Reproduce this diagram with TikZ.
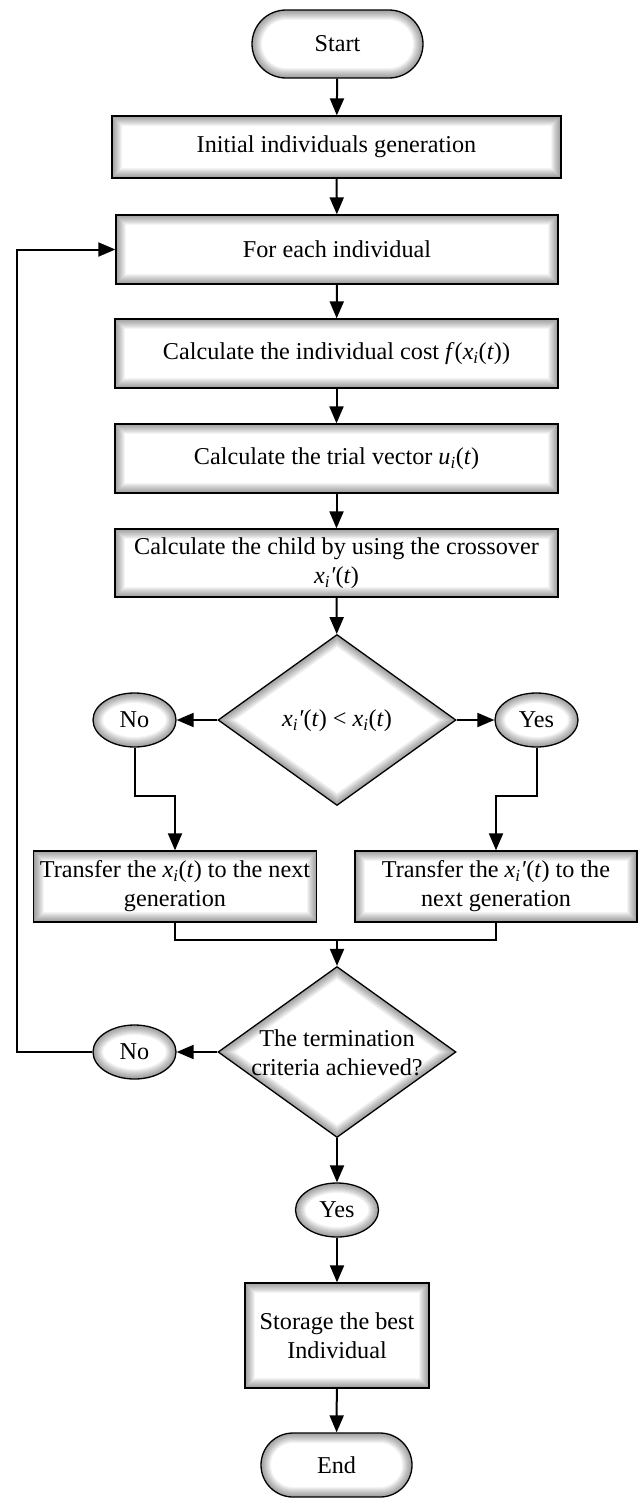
\documentclass[tikz,border=0pt]{standalone}
\usepackage{fontspec}
\setmainfont{Liberation Serif}
\usetikzlibrary{arrows.meta,shapes.geometric}
\newcommand{\xv}{\textit{x}}
\newcommand{\isub}{\textsubscript{\textit{i}}}
\newcommand{\prm}{\textit{′}}
\newcommand{\glowlist}{2,4,6,8,10,12,14,16,18,20}
\tikzset{
  glowpen/.style={line width=#1 pt, black, opacity=0.045},
  glowrect/.style={path picture={
    \foreach \w in \glowlist{
      \draw[glowpen=\w] (path picture bounding box.south west) rectangle (path picture bounding box.north east);}
  }},
  glowstad/.style={path picture={
    \foreach \w in \glowlist{
      \draw[glowpen=\w, rounded corners=#1] (path picture bounding box.south west) rectangle (path picture bounding box.north east);}
  }},
  glowdia/.style={path picture={
    \foreach \w in \glowlist{
      \draw[glowpen=\w] (path picture bounding box.north) -- (path picture bounding box.east) -- (path picture bounding box.south) -- (path picture bounding box.west) -- cycle;}
  }},
  glowell/.style={path picture={
    \foreach \w in \glowlist{
      \draw[glowpen=\w] (path picture bounding box.center) ellipse [x radius=41.5pt, y radius=27pt];}
  }},
  base/.style={draw=black, line width=1.3pt, fill=white, inner sep=0pt, align=center,
    font=\fontsize{24.2}{29}\selectfont},
  procbox/.style={base, rectangle, glowrect},
  stad/.style={base, rectangle, rounded corners=#1, glowstad=#1},
  dia/.style={base, diamond, glowdia, minimum width=238pt, minimum height=171pt},
  ell/.style={base, ellipse, glowell, minimum width=83pt, minimum height=54pt},
  txt/.style={inner sep=0pt, align=center, font=\fontsize{24.2}{29}\selectfont},
  conn/.style={line width=2pt, -{Triangle[length=17pt,width=14pt]}},
  plain/.style={line width=2pt},
}
\begin{document}
\begin{tikzpicture}[x=1pt,y=-1pt]
\useasboundingbox (0,0) rectangle (638,1499);

\node[stad=34pt, minimum width=171pt, minimum height=68pt] (start) at (337.5,44) {Start};
\node[procbox, minimum width=449pt, minimum height=62pt] (init) at (336.5,147) {Initial individuals generation};
\node[procbox, minimum width=442pt, minimum height=69pt] (foreach) at (337,249.5) {For each individual};
\node[procbox, minimum width=443pt, minimum height=69pt] (cost) at (336.5,353.5) {Calculate the individual cost \textit{f}(\xv\isub(\textit{t}))};
\node[procbox, minimum width=443pt, minimum height=69pt] (trial) at (336.5,458.5) {Calculate the trial vector \textit{u}\isub(\textit{t})};
\node[procbox, minimum width=443pt, minimum height=68pt] (child) at (336.5,563) {Calculate the child by using the crossover\\\xv\isub\prm(\textit{t})};

\node[dia] (dec1) at (337,720) {};
\node[txt] (dec1t) at (337,721) {\xv\isub\prm(\textit{t}) < \xv\isub(\textit{t})};
\node[ell] (no1) at (134.5,720) {No};
\node[ell] (yes1) at (536.5,720) {Yes};

\node[procbox, minimum width=283pt, minimum height=71pt] (trans1) at (175,886.5) {Transfer the \xv\isub(\textit{t}) to the next\\generation};
\node[procbox, minimum width=282pt, minimum height=71pt] (trans2) at (496,886.5) {Transfer the \xv\isub\prm(\textit{t}) to the\\next generation};

\node[dia] (dec2) at (337,1052) {};
\node[txt] (dec2t) at (337,1053) {The termination\\criteria achieved?};
\node[ell] (no2) at (134.5,1052) {No};
\node[ell] (yes2) at (337,1210) {Yes};

\node[procbox, minimum width=184pt, minimum height=105pt] (store) at (337,1335.5) {Storage the best\\Individual};
\node[stad=32pt, minimum width=151pt, minimum height=64pt] (end) at (336.5,1465) {End};

\coordinate (lb) at (134.5,796);
\coordinate (rb) at (536.5,796);
\coordinate (mrg) at (337,940);
\coordinate (fbl) at (16.5,1052);

\draw[conn] (start) -- (init);
\draw[conn] (init) -- (foreach);
\draw[conn] (foreach) -- (cost);
\draw[conn] (cost) -- (trial);
\draw[conn] (trial) -- (child);
\draw[conn] (child) -- (dec1);
\draw[conn] (dec1.west) -- (no1.east);
\draw[conn] (dec1.east) -- (yes1.west);
\draw[conn] (no1.south) -- (lb) -| (trans1.north);
\draw[conn] (yes1.south) -- (rb) -| (trans2.north);
\draw[plain] (trans1.south) |- (mrg);
\draw[plain] (trans2.south) |- (mrg);
\draw[conn] (mrg) -- (dec2.north);
\draw[conn] (dec2.west) -- (no2.east);
\draw[conn] (no2.west) -- (fbl) |- (foreach.west);
\draw[conn] (dec2.south) -- (yes2.north);
\draw[conn] (yes2) -- (store);
\draw[conn] (store) -- (end);
\end{tikzpicture}
\end{document}
